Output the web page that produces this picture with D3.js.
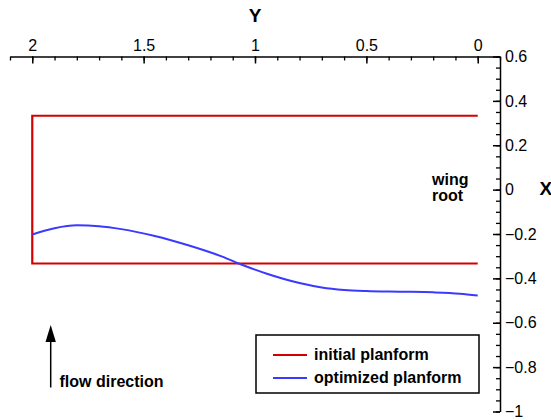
<!DOCTYPE html>
<html>
<head>
<meta charset="utf-8">
<script src="https://cdn.jsdelivr.net/npm/d3@7/dist/d3.min.js"></script>
<style>
  html, body { margin: 0; padding: 0; background: #fff; }
  svg { display: block; font-family: "Liberation Sans", Arial, sans-serif; }
</style>
</head>
<body>
<svg id="chart" width="551" height="420"></svg>
<script>
// Spanwise coordinate Y (horizontal, reversed) and chordwise coordinate X (vertical)
const yTicksMajor = [2, 1.5, 1, 0.5, 0];
const xTicksMajor = [0.6, 0.4, 0.2, 0, -0.2, -0.4, -0.6, -0.8, -1];

// Initial planform: rectangular outline, open at the root (Y = 0)
const initialY = [0, 2, 2, 0];
const initialX = [0.333, 0.333, -0.333, -0.333];

// Optimized planform trailing edge
const optimizedY = [2.0, 1.9, 1.8, 1.7, 1.6, 1.45, 1.3, 1.15, 1.05, 0.95, 0.8, 0.7, 0.6, 0.5, 0.35, 0.2, 0.08, 0.0];
const optimizedX = [-0.202, -0.174, -0.161, -0.165, -0.178, -0.209, -0.251, -0.301, -0.342, -0.378, -0.421, -0.441, -0.452, -0.457, -0.460, -0.463, -0.469, -0.477];

const seriesNames = ["initial planform", "optimized planform"];
const seriesColors = ["#d40000", "#3a3aff"];

const svg = d3.select("#chart");

const sx = d3.scaleLinear().domain([2.1, -0.1]).range([10, 500]);
const sy = d3.scaleLinear().domain([0.6, -1]).range([56.5, 411.5]);

const fmt = d => d3.format("")(+d.toFixed(2));

// top axis (Y)
const topMinor = d3.range(-0.1, 2.1001, 0.1).map(v => +v.toFixed(2));
svg.append("g")
  .attr("transform", `translate(0,${sy(0.6)})`)
  .call(d3.axisTop(sx).tickValues(topMinor).tickSizeInner(-4).tickSizeOuter(0).tickFormat(""))
  .call(g => g.select(".domain").remove())
  .call(g => g.selectAll("line").attr("stroke", "#000").attr("stroke-width", 1.3));
svg.append("g")
  .attr("transform", `translate(0,${sy(0.6)})`)
  .call(d3.axisTop(sx).tickValues(yTicksMajor).tickSizeInner(-7).tickSizeOuter(0).tickPadding(6).tickFormat(fmt))
  .call(g => g.select(".domain").attr("stroke", "#000").attr("stroke-width", 1.5))
  .call(g => g.selectAll("line").attr("stroke", "#000").attr("stroke-width", 1.5))
  .call(g => g.selectAll("text").attr("font-size", 16).attr("fill", "#000")
    .attr("font-family", "Liberation Sans, Arial, sans-serif"));

// right axis (X)
const rightMinor = d3.range(-1, 0.6001, 0.05).map(v => +v.toFixed(2));
svg.append("g")
  .attr("transform", `translate(${sx(-0.1)},0)`)
  .call(d3.axisRight(sy).tickValues(rightMinor).tickSizeInner(-4).tickSizeOuter(0).tickFormat(""))
  .call(g => g.select(".domain").remove())
  .call(g => g.selectAll("line").attr("stroke", "#000").attr("stroke-width", 1.3));
svg.append("g")
  .attr("transform", `translate(${sx(-0.1)},0)`)
  .call(d3.axisRight(sy).tickValues(xTicksMajor).tickSizeInner(-7).tickSizeOuter(0).tickPadding(5).tickFormat(fmt))
  .call(g => g.select(".domain").attr("stroke", "#000").attr("stroke-width", 1.5))
  .call(g => g.selectAll("line").attr("stroke", "#000").attr("stroke-width", 1.5))
  .call(g => g.selectAll("text").attr("font-size", 16).attr("fill", "#000")
    .attr("font-family", "Liberation Sans, Arial, sans-serif"));

// axis titles
svg.append("text").attr("x", sx(1)).attr("y", 22).attr("text-anchor", "middle")
  .attr("font-size", 19).attr("font-weight", "bold").text("Y");
svg.append("text").attr("x", 539.5).attr("y", 194.5)
  .attr("font-size", 19).attr("font-weight", "bold").text("X");

// planforms
const line = d3.line().x(d => sx(d[0])).y(d => sy(d[1]));
svg.append("path")
  .datum(initialY.map((v, i) => [v, initialX[i]]))
  .attr("d", line).attr("fill", "none")
  .attr("stroke", seriesColors[0]).attr("stroke-width", 2.2);
svg.append("path")
  .datum(optimizedY.map((v, i) => [v, optimizedX[i]]))
  .attr("d", line.curve(d3.curveMonotoneX)).attr("fill", "none")
  .attr("stroke", seriesColors[1]).attr("stroke-width", 2);

// wing root annotation
const wr = svg.append("text").attr("font-size", 16).attr("font-weight", "bold");
wr.append("tspan").attr("x", 432).attr("y", 184.5).text("wing");
wr.append("tspan").attr("x", 432).attr("y", 200.5).text("root");

// flow direction arrow
svg.append("line").attr("x1", 50.7).attr("x2", 50.7).attr("y1", 387.5).attr("y2", 334)
  .attr("stroke", "#000").attr("stroke-width", 1.5);
svg.append("path").attr("d", "M45.5,342 L50.7,325 L55.9,342 Z").attr("fill", "#000");
svg.append("text").attr("x", 59.5).attr("y", 386.5).attr("font-size", 16)
  .attr("font-weight", "bold").text("flow direction");

// legend
const lg = svg.append("g");
lg.append("rect").attr("x", 256).attr("y", 335).attr("width", 223).attr("height", 58)
  .attr("fill", "#fff").attr("stroke", "#000").attr("stroke-width", 1.5);
seriesNames.forEach((name, i) => {
  const yy = 355 + i * 23;
  lg.append("line").attr("x1", 273).attr("x2", 307).attr("y1", yy).attr("y2", yy)
    .attr("stroke", seriesColors[i]).attr("stroke-width", 2);
  lg.append("text").attr("x", 314).attr("y", yy + 5).attr("font-size", 16)
    .attr("font-weight", "bold").text(name);
});
</script>
</body>
</html>
